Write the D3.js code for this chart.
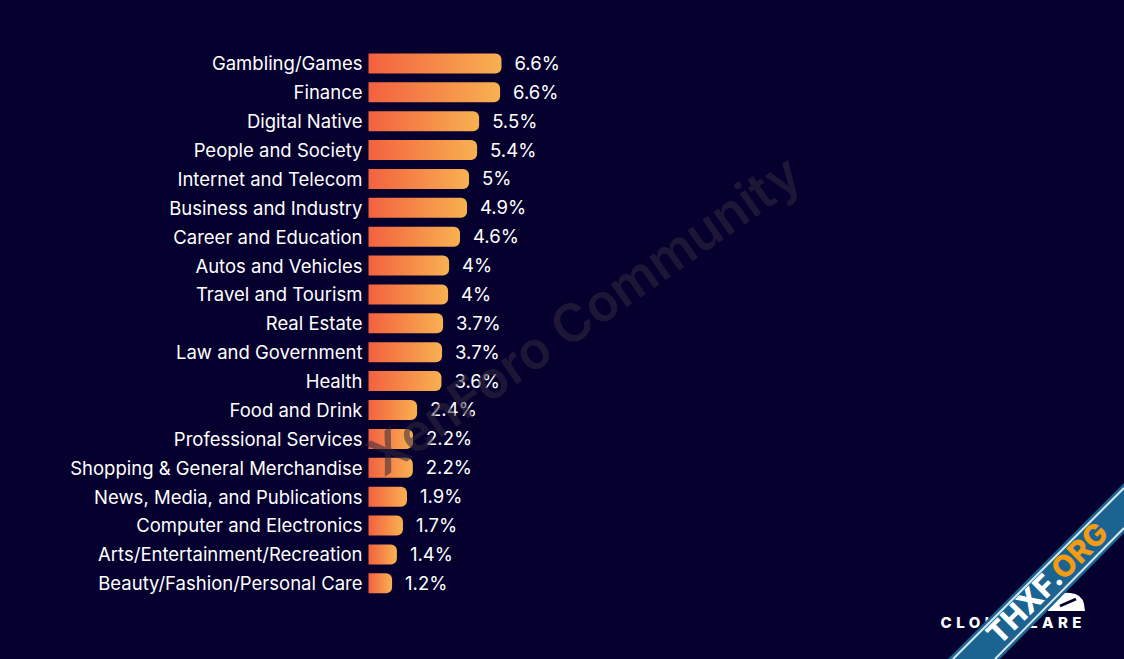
<!DOCTYPE html>
<html>
<head>
<meta charset="utf-8">
<script src="https://cdn.jsdelivr.net/npm/d3@7"></script>
<style>
  html, body { margin: 0; padding: 0; background: #05002e; }
  svg { display: block; }
  text { font-family: Inter, "Noto Sans", sans-serif; }
</style>
</head>
<body>
<div id="chart"></div>
<script>
var categories = ['Gambling/Games', 'Finance', 'Digital Native', 'People and Society', 'Internet and Telecom',
    'Business and Industry', 'Career and Education', 'Autos and Vehicles', 'Travel and Tourism', 'Real Estate',
    'Law and Government', 'Health', 'Food and Drink', 'Professional Services', 'Shopping & General Merchandise',
    'News, Media, and Publications', 'Computer and Electronics', 'Arts/Entertainment/Recreation', 'Beauty/Fashion/Personal Care']
var values = [6.6, 6.53, 5.49, 5.39, 4.99, 4.89, 4.54, 4, 3.95, 3.7, 3.65, 3.62, 2.41, 2.21, 2.2, 1.91, 1.71, 1.41, 1.17]
var valueLabels = ['6.6%', '6.6%', '5.5%', '5.4%', '5%', '4.9%', '4.6%', '4%', '4%', '3.7%', '3.7%', '3.6%', '2.4%', '2.2%', '2.2%', '1.9%', '1.7%', '1.4%', '1.2%']

var regionWidth = 1124
var regionHeight = 659
var margin = { top: 49, left: 368.5 }
var rowStep = 28.88
var barHeight = 20
var fontSize = '18.5px'

var rows = categories.map((c, i) => ({ category: c, value: values[i], label: valueLabels[i] }))

var svg = d3.select('#chart').append('svg')
    .attr('width', regionWidth)
    .attr('height', regionHeight)

var defs = svg.append('defs')
var grad = defs.append('linearGradient').attr('id', 'barFill')
grad.append('stop').attr('offset', '0%').attr('stop-color', '#f3613f')
grad.append('stop').attr('offset', '100%').attr('stop-color', '#f8b151')

var scaleX = d3.scaleLinear().domain([0, 6.6]).range([0, 133])
var scaleY = d3.scaleBand().domain(categories)
    .range([0, rowStep * categories.length])
    .paddingInner(1 - barHeight / rowStep)
    .paddingOuter((1 - barHeight / rowStep) / 2)

var plot = svg.append('g').attr('transform', 'translate(' + margin.left + ',' + margin.top + ')')

// square on the left, rounded on the right
function barPath(d) {
    var w = scaleX(d.value), h = scaleY.bandwidth(), y = scaleY(d.category), r = 6
    return 'M0,' + y + 'H' + (w - r) + 'A' + r + ',' + r + ' 0 0 1 ' + w + ',' + (y + r)
        + 'V' + (y + h - r) + 'A' + r + ',' + r + ' 0 0 1 ' + (w - r) + ',' + (y + h) + 'H0Z'
}

plot.selectAll('path.bar').data(rows).enter().append('path')
    .attr('class', 'bar')
    .attr('d', barPath)
    .attr('fill', 'url(#barFill)')

var axis = plot.append('g').call(d3.axisLeft(scaleY).tickSize(0).tickPadding(6))
axis.select('.domain').remove()
axis.selectAll('text')
    .attr('fill', '#fff')
    .attr('y', 1)
    .style('font-size', fontSize)
    .style('font-family', 'Inter, "Noto Sans", sans-serif')

plot.selectAll('text.value').data(rows).enter().append('text')
    .attr('class', 'value')
    .attr('x', d => scaleX(d.value) + 13)
    .attr('y', d => scaleY(d.category) + scaleY.bandwidth() / 2)
    .attr('dy', '0.35em')
    .attr('fill', '#fff')
    .style('font-size', fontSize)
    .text(d => d.label)

// faint forum watermark over the chart
svg.append('text')
    .attr('transform', 'translate(584,315) rotate(-35)')
    .attr('text-anchor', 'middle')
    .attr('dy', '0.35em')
    .attr('fill', '#33293f')
    .attr('opacity', 0.55)
    .style('font-size', '52px')
    .style('font-weight', 600)
    .text('XenForo Community')

// cloudflare logo, bottom right
var logo = svg.append('g')
logo.append('path')
    .attr('d', 'M1048,611 q-2,-9 7,-10 q5,-10 15,-8 q12,1 14,11 l1,7 Z')
    .attr('fill', '#fff')
logo.append('path')
    .attr('d', 'M1060,606 L1076,599')
    .attr('stroke', '#05002e')
    .attr('stroke-width', 3)
logo.append('text')
    .attr('x', 1086).attr('y', 628)
    .attr('text-anchor', 'end')
    .attr('fill', '#fff')
    .style('font-size', '15px')
    .style('font-weight', 800)
    .style('letter-spacing', '4.5px')
    .text('CLOUDFLARE')

// site ribbon across the corner
var ribbon = svg.append('g')
ribbon.append('path')
    .attr('d', 'M1124,483 L948,659 H1000 L1124,533 Z')
    .attr('fill', '#1b6491')
ribbon.append('path')
    .attr('d', 'M1124,488 L953,659 M1124,528 L995,659')
    .attr('stroke', '#d5e6ef')
    .attr('stroke-width', 2)
    .attr('fill', 'none')
var ribbonText = ribbon.append('text')
    .attr('transform', 'translate(1047,583) rotate(-45)')
    .attr('text-anchor', 'middle')
    .attr('dy', '0.36em')
    .style('font-size', '30px')
    .style('font-weight', 800)
ribbonText.append('tspan').attr('fill', '#fff').text('THXF.')
ribbonText.append('tspan').attr('fill', '#f39c12').text('ORG')
</script>
</body>
</html>
